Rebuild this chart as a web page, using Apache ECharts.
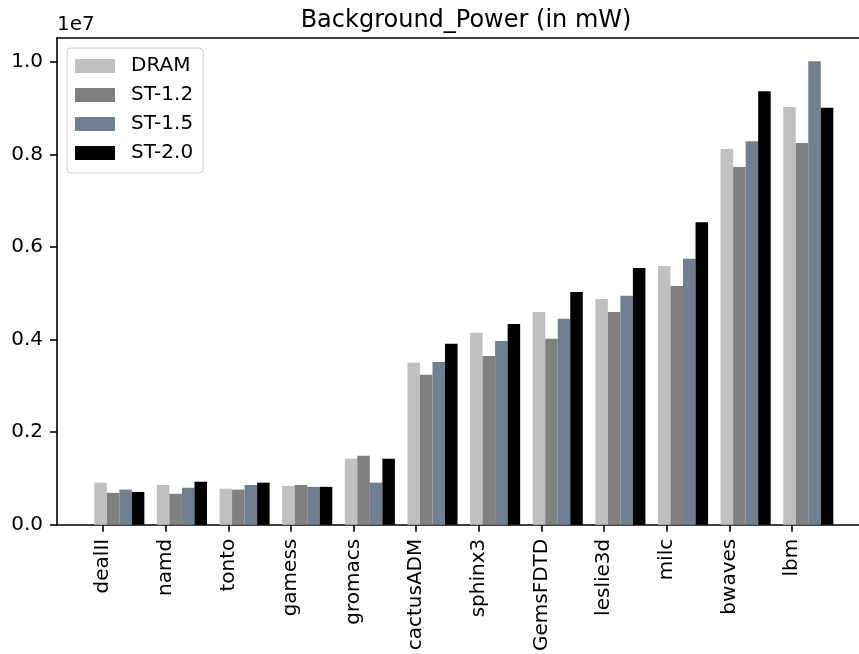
<!DOCTYPE html>
<html>
<head>
<meta charset="utf-8">
<script src="https://cdn.jsdelivr.net/npm/echarts@6/dist/echarts.min.js"></script>
<style>html,body{margin:0;padding:0;background:#fff;}#c{width:859px;height:654px;}</style>
</head>
<body>
<div id="c"></div>
<script>
const categories = ['dealII','namd','tonto','gamess','gromacs','cactusADM','sphinx3','GemsFDTD','leslie3d','milc','bwaves','lbm'];
const seriesNames = ['DRAM','ST-1.2','ST-1.5','ST-2.0'];
const dram  = [0.91e6, 0.86e6, 0.78e6, 0.84e6, 1.425e6, 3.50e6, 4.15e6, 4.60e6, 4.88e6, 5.59e6, 8.12e6, 9.03e6];
const st12  = [0.69e6, 0.67e6, 0.76e6, 0.86e6, 1.49e6, 3.24e6, 3.65e6, 4.02e6, 4.60e6, 5.16e6, 7.73e6, 8.25e6];
const st15  = [0.76e6, 0.80e6, 0.86e6, 0.82e6, 0.91e6, 3.52e6, 3.97e6, 4.45e6, 4.95e6, 5.75e6, 8.29e6, 10.02e6];
const st20  = [0.71e6, 0.93e6, 0.91e6, 0.82e6, 1.425e6, 3.91e6, 4.34e6, 5.03e6, 5.55e6, 6.54e6, 9.37e6, 9.01e6];
const yTicks = [0, 2e6, 4e6, 6e6, 8e6, 10e6];

const allValues = [dram, st12, st15, st20];
const colors = ['#c0c0c0', '#808080', '#708090', '#000000'];
const barW = 0.2;
const FONT = 'DejaVu Sans';
const FS = 20;
const X_MIN = -0.735, X_MAX = 12.07;

const chart = echarts.init(document.getElementById('c'), null, {renderer: 'canvas'});

function renderBar(params, api) {
  const x = api.value(0), v = api.value(1);
  const top = api.coord([x, v]);
  const base = api.coord([x, 0]);
  const w = api.size([barW, 0])[0];
  return {
    type: 'rect',
    shape: {x: top[0] - w / 2, y: top[1], width: w, height: base[1] - top[1]},
    style: {fill: api.visual('color')}
  };
}

const series = seriesNames.map((name, k) => ({
  name: name,
  type: 'custom',
  renderItem: renderBar,
  itemStyle: {color: colors[k]},
  encode: {x: 0, y: 1},
  xAxisIndex: 0,
  data: categories.map((c, i) => [i - 0.04 + k * barW, allValues[k][i]]),
  z: 2
}));

chart.setOption({
  animation: false,
  backgroundColor: '#fff',
  title: {
    text: 'Background_Power (in mW)',
    left: 461, top: 4, textAlign: 'center',
    textStyle: {fontFamily: FONT, fontSize: 24, fontWeight: 'normal', color: '#000'}
  },
  legend: {
    data: seriesNames.map((n, k) => ({name: n, icon: 'rect', itemStyle: {color: colors[k]}})),
    orient: 'vertical',
    left: 67, top: 48,
    itemWidth: 40, itemHeight: 14, itemGap: 9,
    padding: [8, 10, 10, 8],
    borderColor: '#cccccc', borderWidth: 1, borderRadius: 4,
    backgroundColor: 'rgba(255,255,255,0.8)',
    textStyle: {fontFamily: FONT, fontSize: FS, color: '#000', padding: [0, 0, 0, 11]}
  },
  grid: {
    left: 57, right: 0, top: 38, bottom: 129,
    show: false
  },
  xAxis: [{
    type: 'value',
    min: X_MIN, max: X_MAX,
    splitLine: {show: false},
    axisLine: {show: true, onZero: false, lineStyle: {color: '#000', width: 1.6}},
    axisTick: {show: true, length: 7, lineStyle: {color: '#000', width: 1.6}, customValues: categories.map((c, i) => i)},
    axisLabel: {
      customValues: categories.map((c, i) => i),
      formatter: v => categories[Math.round(v)],
      rotate: 90, margin: 14,
      fontFamily: FONT, fontSize: FS, color: '#000'
    }
  }, {
    type: 'value',
    position: 'top',
    min: X_MIN, max: X_MAX,
    splitLine: {show: false},
    axisLine: {show: true, onZero: false, lineStyle: {color: '#000', width: 1.6}},
    axisTick: {show: false},
    axisLabel: {show: false}
  }],
  yAxis: {
    type: 'value',
    min: 0, max: 1.052e7,
    name: '1e7', nameLocation: 'end', nameGap: 3,
    nameTextStyle: {fontFamily: FONT, fontSize: FS, color: '#000', align: 'left', verticalAlign: 'bottom'},
    splitLine: {show: false},
    axisLine: {show: true, onZero: false, lineStyle: {color: '#000', width: 1.6}},
    axisTick: {show: true, length: 7, lineStyle: {color: '#000', width: 1.6}, customValues: yTicks},
    axisLabel: {
      customValues: yTicks,
      formatter: v => (v / 1e7).toFixed(1),
      margin: 14,
      fontFamily: FONT, fontSize: FS, color: '#000'
    }
  },
  series: series
});
</script>
</body>
</html>
